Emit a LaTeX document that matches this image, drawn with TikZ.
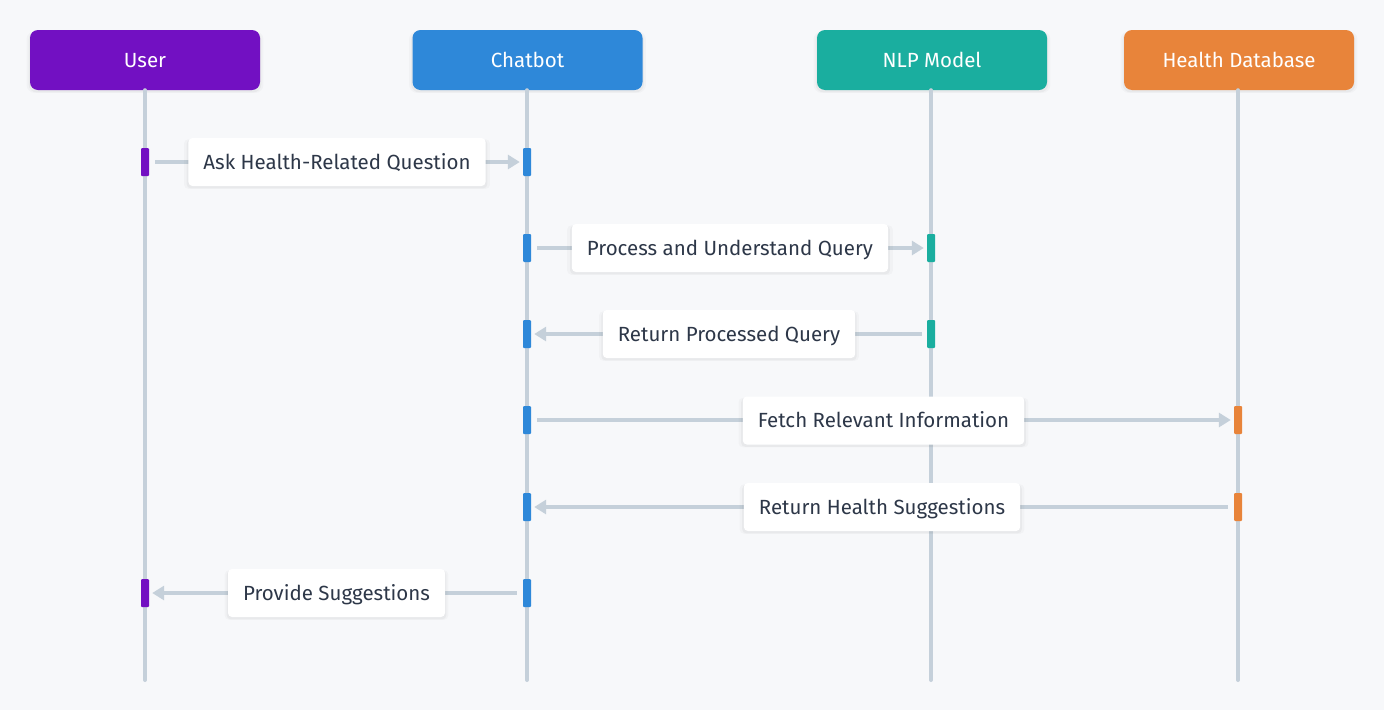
\documentclass[tikz,border=0pt]{standalone}
\usepackage{fontspec}
\setmainfont{Fira Sans}
\usetikzlibrary{arrows.meta,shadows}
\definecolor{bg}{HTML}{F7F8FA}
\definecolor{life}{HTML}{C5D0DA}
\definecolor{txt}{HTML}{2D3748}
\definecolor{cuser}{HTML}{7210C2}
\definecolor{cbot}{HTML}{2E88D9}
\definecolor{cnlp}{HTML}{1AAE9F}
\definecolor{cdb}{HTML}{E8843A}
\tikzset{
  softshadow/.style={
    general shadow={fill=black, opacity=0.025, shadow yshift=-2pt, shadow xshift=0pt, shadow scale=1.03},
    general shadow={fill=black, opacity=0.035, shadow yshift=-2pt, shadow xshift=0pt, shadow scale=1.012}},
  head/.style={rounded corners=8pt, minimum width=230pt, minimum height=60pt, inner sep=0pt,
    text height=16pt, text depth=2pt,
    text=white, font=\fontsize{20.5}{24}\selectfont, softshadow},
  lifeline/.style={draw=life, line width=4pt, line cap=round},
  actbar/.style={rounded corners=1pt, minimum width=8pt, minimum height=28pt, inner sep=0pt},
  msg/.style={draw=life, line width=4pt, -{Triangle[length=12pt,width=14pt]}},
  lbl/.style={fill=white, rounded corners=4pt, inner xsep=15pt, minimum height=48pt, inner ysep=0pt,
    text height=16pt, text depth=2pt,
    text=txt, font=\fontsize{20.5}{24}\selectfont, softshadow}
}
\begin{document}
\begin{tikzpicture}[x=1pt,y=-1pt]
\fill[bg] (0,0) rectangle (1384,710);
\useasboundingbox (0,0) rectangle (1384,710);
% headers
\node[head, fill=cuser] (hu) at (145,60) {User};
\node[head, fill=cbot] (hc) at (527.5,60) {Chatbot};
\node[head, fill=cnlp] (hn) at (932,60) {NLP Model};
\node[head, fill=cdb] (hd) at (1239,60) {Health Database};
% lifeline ends
\coordinate (eu) at (145,680);
\coordinate (ec) at (527,680);
\coordinate (en) at (931,680);
\coordinate (ed) at (1238,680);
\draw[lifeline] (hu.south -| eu) -- (eu);
\draw[lifeline] (hc.south -| ec) -- (ec);
\draw[lifeline] (hn.south -| en) -- (en);
\draw[lifeline] (hd.south -| ed) -- (ed);
% activation bars
\node[actbar, fill=cuser] (u1) at (145,162) {};
\node[actbar, fill=cbot] (c1) at (527,162) {};
\node[actbar, fill=cbot] (c2) at (527,248) {};
\node[actbar, fill=cnlp] (n2) at (931,248) {};
\node[actbar, fill=cbot] (c3) at (527,334) {};
\node[actbar, fill=cnlp] (n3) at (931,334) {};
\node[actbar, fill=cbot] (c4) at (527,420) {};
\node[actbar, fill=cdb] (d4) at (1238,420) {};
\node[actbar, fill=cbot] (c5) at (527,507) {};
\node[actbar, fill=cdb] (d5) at (1238,507) {};
\node[actbar, fill=cuser] (u6) at (145,593) {};
\node[actbar, fill=cbot] (c6) at (527,593) {};
% messages
\draw[msg, shorten <=6pt, shorten >=3pt] (u1) -- (c1);
\draw[msg, shorten <=6pt, shorten >=3pt] (c2) -- (n2);
\draw[msg, shorten <=5pt, shorten >=3pt] (n3) -- (c3);
\draw[msg, shorten <=6pt, shorten >=3pt] (c4) -- (d4);
\draw[msg, shorten <=6pt, shorten >=3pt] (d5) -- (c5);
\draw[msg, shorten <=6pt, shorten >=3pt] (c6) -- (u6);
% labels
\node[lbl] (l1) at (337,162) {Ask Health-Related Question};
\node[lbl] (l2) at (730,248) {Process and Understand Query};
\node[lbl] (l3) at (729,334) {Return Processed Query};
\node[lbl] (l4) at (883.5,420.5) {Fetch Relevant Information};
\node[lbl] (l5) at (882,507) {Return Health Suggestions};
\node[lbl] (l6) at (336.5,593) {Provide Suggestions};
\end{tikzpicture}
\end{document}
